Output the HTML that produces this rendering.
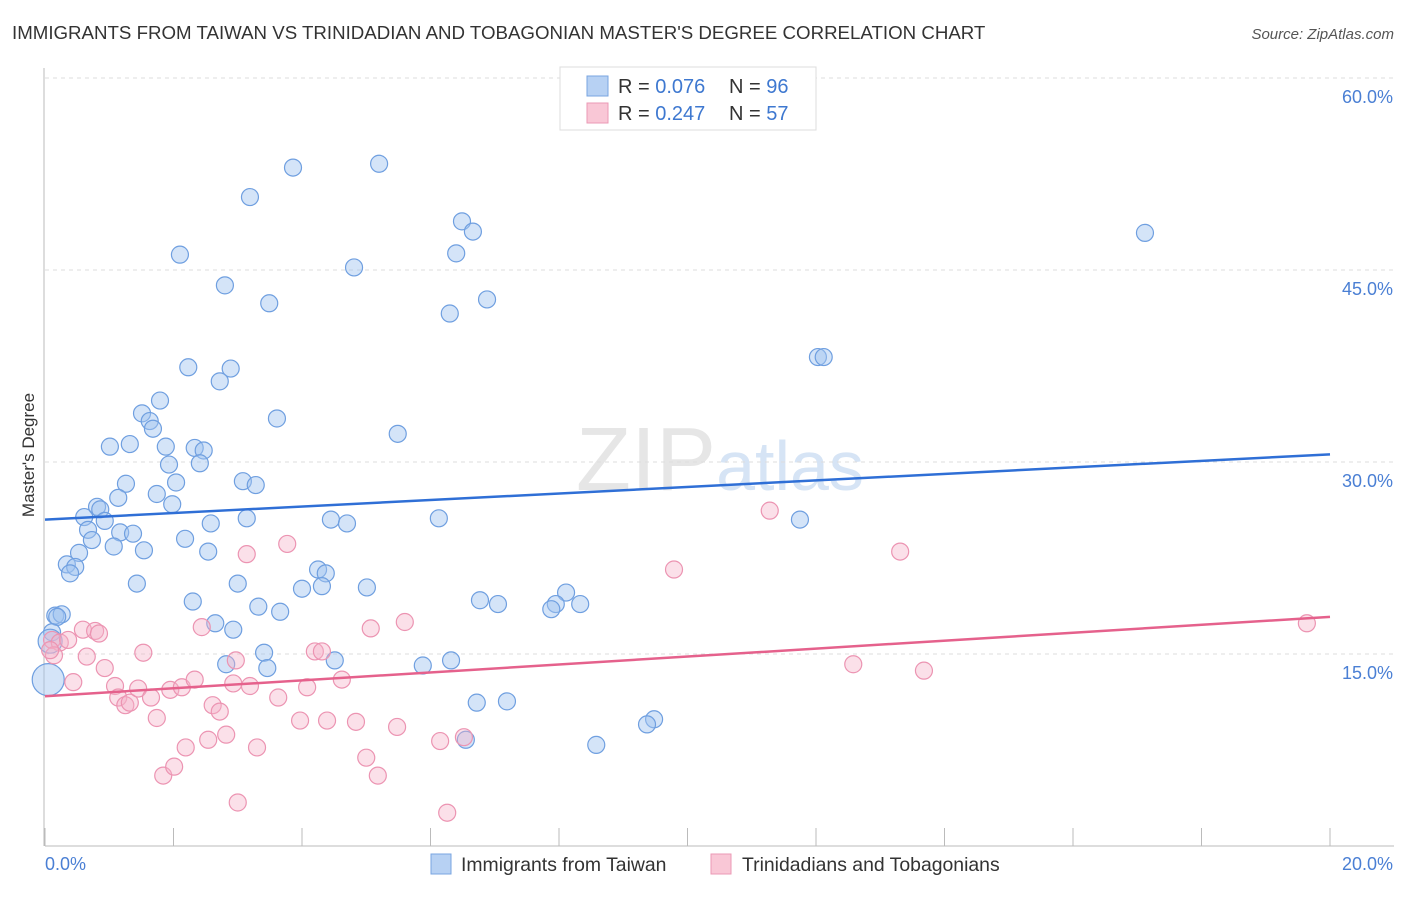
<!DOCTYPE html>
<html><head><meta charset="utf-8"><style>
body{margin:0;background:#fff;font-family:"Liberation Sans",sans-serif}
svg text{font-family:"Liberation Sans",sans-serif}
</style></head><body>
<svg id="c" width="1406" height="892">
<text x="12" y="39" font-size="18.7" fill="#333">IMMIGRANTS FROM TAIWAN VS TRINIDADIAN AND TOBAGONIAN MASTER'S DEGREE CORRELATION CHART</text>
<text x="1394" y="39" font-size="15" fill="#555" text-anchor="end" font-style="italic">Source: ZipAtlas.com</text>
<text x="720" y="490" font-size="90" fill="#e6e6e6" text-anchor="middle" font-family="Liberation Serif">ZIP<tspan fill="#d6e4f5" font-family="Liberation Sans" font-size="70">atlas</tspan></text>
<text transform="translate(34,455) rotate(-90)" font-size="17" fill="#333" text-anchor="middle">Master's Degree</text>
<g id="grid"></g><g id="pts"></g><g id="lines"></g>
<g>
<rect x="560" y="67" width="256" height="63" fill="#fff" stroke="#ddd"/>
<rect x="587" y="76" width="21" height="20" fill="#b7d1f3" stroke="#79a5e0"/>
<rect x="587" y="103" width="21" height="20" fill="#f9c7d6" stroke="#eb9ab5"/>
<text x="618" y="93" font-size="20" fill="#333">R = <tspan fill="#3e78d0">0.076</tspan><tspan x="729">N = </tspan><tspan fill="#3e78d0">96</tspan></text>
<text x="618" y="120" font-size="20" fill="#333">R = <tspan fill="#3e78d0">0.247</tspan><tspan x="729">N = </tspan><tspan fill="#3e78d0">57</tspan></text>
</g>
<g>
<rect x="431" y="854" width="20" height="20" fill="#b7d1f3" stroke="#79a5e0"/>
<text x="461" y="871" font-size="19.4" fill="#333">Immigrants from Taiwan</text>
<rect x="711" y="854" width="20" height="20" fill="#f9c7d6" stroke="#eb9ab5"/>
<text x="742" y="871" font-size="19.4" fill="#333">Trinidadians and Tobagonians</text>
</g>
</svg>
<script>
const xTicks=[0,20];
const yTicks=[15,30,45,60];
const blueX=[3.86,5.20,3.19,2.10,6.49,6.66,6.40,4.81,2.80,3.49,6.88,6.30,17.12,12.03,12.12,2.23,2.89,2.72,1.79,1.51,1.63,1.68,3.61,5.49,1.01,1.32,1.88,2.33,2.47,1.93,2.41,2.04,3.08,3.28,1.26,1.74,1.14,1.98,0.81,0.86,0.61,0.93,2.58,3.14,4.45,4.70,6.13,11.75,0.67,1.17,1.37,0.73,1.07,1.54,2.18,2.54,0.53,0.34,0.47,0.39,3.00,1.43,4.00,4.25,4.37,4.31,5.01,8.11,6.77,7.05,7.95,8.33,7.88,2.30,3.32,3.66,0.16,0.26,0.19,2.65,2.93,0.11,3.41,3.46,2.82,4.51,5.88,6.32,6.72,7.19,9.48,9.37,6.55,8.58,0.05,0.08];
const blueY=[53.0,53.3,50.7,46.2,48.8,48.0,46.3,45.2,43.8,42.4,42.7,41.6,47.9,38.2,38.2,37.4,37.3,36.3,34.8,33.8,33.2,32.6,33.4,32.2,31.2,31.4,31.2,31.1,30.9,29.8,29.9,28.4,28.5,28.2,28.3,27.5,27.2,26.7,26.5,26.3,25.7,25.4,25.2,25.6,25.5,25.2,25.6,25.5,24.7,24.5,24.4,23.9,23.4,23.1,24.0,23.0,22.9,22.0,21.8,21.3,20.5,20.5,20.1,21.6,21.3,20.3,20.2,19.8,19.2,18.9,18.9,18.9,18.5,19.1,18.7,18.3,18.0,18.1,17.9,17.4,16.9,16.7,15.1,13.9,14.2,14.5,14.1,14.5,11.2,11.3,9.9,9.5,8.3,7.9,13.0,16.0];
const pinkX=[0.11,0.23,0.36,0.14,0.08,0.59,0.78,0.84,0.65,0.93,0.44,1.09,1.14,1.25,1.32,1.45,1.53,1.65,1.74,1.84,2.01,1.95,2.13,2.33,2.44,2.61,2.72,2.19,2.54,2.82,2.93,2.97,3.14,3.19,3.30,3.00,3.63,3.77,3.97,4.08,4.20,4.31,4.39,4.62,4.84,5.00,5.07,5.18,5.48,5.60,6.15,6.26,6.52,9.79,11.28,12.58,13.31,13.68,19.64];
const pinkY=[16.1,15.9,16.1,14.9,15.3,16.9,16.8,16.6,14.8,13.9,12.8,12.5,11.6,11.0,11.2,12.3,15.1,11.6,10.0,5.5,6.2,12.2,12.4,13.0,17.1,11.0,10.5,7.7,8.3,8.7,12.7,14.5,22.8,12.5,7.7,3.4,11.6,23.6,9.8,12.4,15.2,15.2,9.8,13.0,9.7,6.9,17.0,5.5,9.3,17.5,8.2,2.6,8.5,21.6,26.2,14.2,23.0,13.7,17.4];
const blueTrend=[25.5,30.6];
const pinkTrend=[11.7,17.9];
const X0=45,X1=1330,Y0=846,YS=192/15;
const sx=v=>X0+(v-0)*(X1-X0)/20;
const sy=v=>Y0-v*YS;
const NS='http://www.w3.org/2000/svg';
function mk(tag,attrs,parent){const e=document.createElementNS(NS,tag);for(const k in attrs)e.setAttribute(k,attrs[k]);parent.appendChild(e);return e;}
const grid=document.getElementById('grid');
yTicks.forEach(t=>{
 const l=mk('line',{x1:X0,x2:1394,y1:sy(t),y2:sy(t),stroke:'#ddd','stroke-dasharray':'4 4'},grid);
 
 
 const tx=mk('text',{x:1393,y:sy(t)+25,'font-size':18,fill:'#4a7fd4','text-anchor':'end'},grid);
 tx.textContent=t.toFixed(1)+'%';
 
 
});
const ax=mk('line',{x1:44,x2:44,y1:68,y2:846,stroke:'#bbb'},grid);


const bx=mk('line',{x1:X0,x2:1394,y1:846,y2:846,stroke:'#bbb'},grid);


for(let i=0;i<=10;i++){
 const x=sx(i*2);
 const t=mk('line',{x1:x,x2:x,y1:828,y2:846,stroke:'#bbb'},grid);
 
 
}
xTicks.forEach((t,i)=>{
 const tx=mk('text',{x:i==0?45:1393,y:870,'font-size':18,fill:'#4a7fd4','text-anchor':i==0?'start':'end'},grid);
 tx.textContent=t.toFixed(1)+'%';
 
 
});
const pts=document.getElementById('pts');
blueX.forEach((v,i)=>{
 const r=(i==blueX.length-2)?16:(i==blueX.length-1?12:8.5);
 const c=mk('circle',{cx:sx(v),cy:sy(blueY[i]),r:r,fill:'rgba(160,196,240,0.45)',stroke:'#6f9fe0','stroke-width':1.2},pts);
 
 
});
pinkX.forEach((v,i)=>{
 const c=mk('circle',{cx:sx(v),cy:sy(pinkY[i]),r:8.5,fill:'rgba(246,178,200,0.4)',stroke:'#ec94b2','stroke-width':1.2},pts);
 
 
});
const lines=document.getElementById('lines');
const bl=mk('line',{x1:sx(0),x2:sx(20),y1:sy(blueTrend[0]),y2:sy(blueTrend[1]),stroke:'#2f6fd6','stroke-width':2.5},lines);


const pl=mk('line',{x1:sx(0),x2:sx(20),y1:sy(pinkTrend[0]),y2:sy(pinkTrend[1]),stroke:'#e5618c','stroke-width':2.5},lines);


</script>
</body></html>
